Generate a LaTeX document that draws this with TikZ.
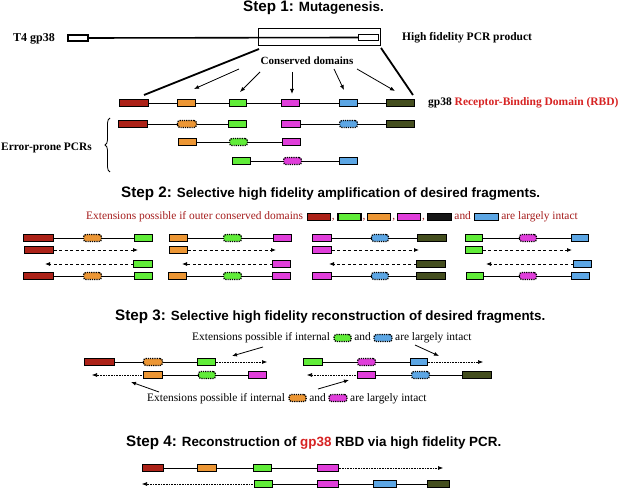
\documentclass[tikz,border=0pt]{standalone}
\usepackage{fontspec}
\setmainfont{Liberation Serif}
\setsansfont{Liberation Sans}
\usetikzlibrary{arrows.meta,calc,decorations.pathreplacing}
\definecolor{cR}{RGB}{172,34,24}
\definecolor{cO}{RGB}{236,150,52}
\definecolor{cG}{RGB}{96,236,56}
\definecolor{cM}{RGB}{224,62,218}
\definecolor{cB}{RGB}{92,166,228}
\definecolor{cV}{RGB}{68,78,30}
\definecolor{cK}{RGB}{22,22,22}
\definecolor{tR}{RGB}{165,28,28}
\definecolor{tR2}{RGB}{215,35,35}
\newcommand\mkbox[5]{\node[box,#2,minimum width={#4-#3-1}] (#1) at ({(#3+#4)/2},#5) {};}
\begin{document}
\begin{tikzpicture}[x=1pt,y=-1pt,
  box/.style={draw=black, line width=1.1pt, minimum height=7pt, inner sep=0pt, outer sep=0pt},
  dbox/.style={dash pattern=on 1.2pt off 1pt, line width=1.3pt, rounded corners=2.5pt},
  wbox/.style={draw=black, fill=white, line width=1.1pt, minimum height=6pt, minimum width=20pt, inner sep=0pt},
  fR/.style={fill=cR}, fO/.style={fill=cO}, fG/.style={fill=cG}, fM/.style={fill=cM},
  fB/.style={fill=cB}, fV/.style={fill=cV}, fK/.style={fill=cK},
  ln/.style={line width=0.7pt},
  darr/.style={line width=0.8pt, dash pattern=on 3pt off 2.5pt, -{Latex[length=5pt,width=4pt]}},
  farr/.style={line width=0.6pt, dash pattern=on 0.8pt off 0.8pt, -{Latex[length=5pt,width=4pt]}},
  parr/.style={line width=0.8pt, -{Latex[length=5pt,width=4pt]}},
  title/.style={font=\sffamily\bfseries\fontsize{13.4}{15}\selectfont, anchor=west, inner sep=0pt},
  lbl/.style={font=\bfseries\fontsize{11.5}{13}\selectfont, inner sep=0pt},
  txt/.style={font=\fontsize{11.4}{13}\selectfont, inner sep=0pt}
]
\useasboundingbox (0,0) rectangle (619,489);
\fill[white] (0,0) rectangle (619,489);

% ---------------- Step 1
\node[title] (t1) at (243,8) {{\fontsize{15.2}{17}\selectfont Step 1:} Mutagenesis.};
\node[lbl, font=\bfseries\fontsize{12}{13}\selectfont, anchor=west] (t4) at (13,39) {T4 gp38};
\node[wbox] (b0) at (78,38) {};
\node[draw, line width=0.6pt, minimum width=122pt, minimum height=17pt, inner sep=0pt] (hf) at (319,36.5) {};
\node[wbox] (b1) at (368.5,37.5) {};
\draw[line width=1.6pt] (b0.east) -- (b1.west);
\node[lbl, anchor=west] (hfl) at (402,38) {High fidelity PCR product};
\coordinate (z1) at (259,49); \coordinate (z2) at (144,95);
\coordinate (z3) at (381,48); \coordinate (z4) at (413,95);
\draw[line width=1.8pt] (z1) -- (z2) (z3) -- (z4);
\node[lbl, font=\bfseries\fontsize{11}{13}\selectfont] (cd) at (307,61) {Conserved domains};
\coordinate (a1s) at (239,69); \coordinate (a1e) at (194,89);
\coordinate (a2s) at (260,72); \coordinate (a2e) at (240,92);
\coordinate (a3s) at (292,72); \coordinate (a3e) at (292,94);
\coordinate (a4s) at (334,69); \coordinate (a4e) at (344,90);
\coordinate (a5s) at (357,69); \coordinate (a5e) at (395,91);
\foreach \i in {1,...,5} \draw[parr] (a\i s) -- (a\i e);

\mkbox{r1}{fR}{119}{149}{103}
\mkbox{r2}{fO}{177}{196}{103}
\mkbox{r3}{fG}{229}{247}{103}
\mkbox{r4}{fM}{281}{300}{103}
\mkbox{r5}{fB}{339}{358}{103}
\mkbox{r6}{fV}{386}{415}{103}
\draw[ln] (r1.east)--(r2.west) (r2.east)--(r3.west) (r3.east)--(r4.west) (r4.east)--(r5.west) (r5.east)--(r6.west);
\node[lbl, anchor=west] (rbd) at (428,103) {gp38 \textcolor{tR2}{Receptor-Binding Domain (RBD)}};

\mkbox{e1}{fR}{118}{148}{124}
\mkbox{e2}{dbox,fO}{177}{197}{124}
\mkbox{e3}{fG}{228}{247}{124}
\mkbox{e4}{fM}{281}{301}{124}
\mkbox{e5}{dbox,fB}{339}{358}{124}
\mkbox{e6}{fV}{386}{415}{124}
\draw[ln] (e1.east)--(e2.west) (e2.east)--(e3.west) (e4.east)--(e5.west) (e5.east)--(e6.west);
\mkbox{f1}{fO}{178}{197}{142}
\mkbox{f2}{dbox,fG}{229}{248}{142}
\mkbox{f3}{fM}{282}{301}{142}
\draw[ln] (f1.east)--(f2.west) (f2.east)--(f3.west);
\mkbox{g1}{fG}{232}{251}{161}
\mkbox{g2}{dbox,fM}{283}{302}{161}
\mkbox{g3}{fB}{339}{358}{161}
\draw[ln] (g1.east)--(g2.west) (g2.east)--(g3.west);
\coordinate (br1) at (110,172); \coordinate (br2) at (110,118);
\draw[line width=0.8pt, decorate, decoration={brace, amplitude=5pt}] (br1) -- (br2);
\node[lbl, font=\bfseries\fontsize{11.4}{13}\selectfont, anchor=west] (ep) at (1,148) {Error-prone PCRs};

% ---------------- Step 2
\node[title] (t2) at (121,194) {{\fontsize{15.2}{17}\selectfont Step 2:} Selective high fidelity amplification of desired fragments.};
\node[txt, text=tR, anchor=base west] (x2) at (86,220) {Extensions possible if outer conserved domains};
\node[box, fR, minimum width=23pt, anchor=west] (l1) at ($(x2.base east)+(4,-3)$) {};
\node[txt, text=tR, anchor=base west, xshift=1.5pt] (c1) at (l1.east |- x2.base) {,};
\node[box, fG, minimum width=23pt, anchor=west] (l2) at ($(c1.base east)+(3,-3)$) {};
\node[txt, text=tR, anchor=base west, xshift=1.5pt] (c2) at (l2.east |- x2.base) {,};
\node[box, fO, minimum width=23pt, anchor=west] (l3) at ($(c2.base east)+(2,-3)$) {};
\node[txt, text=tR, anchor=base west, xshift=1.5pt] (c3) at (l3.east |- x2.base) {,};
\node[box, fM, minimum width=23pt, anchor=west] (l4) at ($(c3.base east)+(2,-3)$) {};
\node[txt, text=tR, anchor=base west, xshift=1.5pt] (c4) at (l4.east |- x2.base) {,};
\node[box, fK, minimum width=24pt, anchor=west] (l5) at ($(c4.base east)+(2,-3)$) {};
\node[txt, text=tR, anchor=base west, xshift=3pt] (an2) at (l5.east |- x2.base) {and};
\node[box, fB, minimum width=24pt, anchor=west] (l6) at ($(an2.base east)+(3,-3)$) {};
\node[txt, text=tR, anchor=base west, xshift=3pt] (x2b) at (l6.east |- x2.base) {are largely intact};

% group 1
\mkbox{p1a}{fR}{23}{54}{238}
\mkbox{p1b}{dbox,fO}{83}{102}{238}
\mkbox{p1c}{fG}{134}{153}{238}
\draw[ln] (p1a.east)--(p1b.west) (p1b.east)--(p1c.west);
\mkbox{p1d}{fR}{24}{54}{250}
\coordinate (p1de) at (138,250);
\draw[darr] (p1d.east) -- (p1de);
\mkbox{p1e}{fG}{133}{153}{264}
\coordinate (p1ee) at (45,264);
\draw[darr] (p1e.west) -- (p1ee);
\mkbox{p1f}{fR}{23}{54}{276}
\mkbox{p1g}{dbox,fO}{83}{102}{276}
\mkbox{p1h}{fG}{134}{153}{276}
\draw[ln] (p1f.east)--(p1g.west) (p1g.east)--(p1h.west);
% group 2
\mkbox{p2a}{fO}{169}{188}{238}
\mkbox{p2b}{dbox,fG}{223}{242}{238}
\mkbox{p2c}{fM}{273}{292}{238}
\draw[ln] (p2a.east)--(p2b.west) (p2b.east)--(p2c.west);
\mkbox{p2d}{fO}{169}{188}{250}
\coordinate (p2de) at (276,250);
\draw[darr] (p2d.east) -- (p2de);
\mkbox{p2e}{fM}{272}{291}{264}
\coordinate (p2ee) at (182,264);
\draw[darr] (p2e.west) -- (p2ee);
\mkbox{p2f}{fO}{168}{187}{276}
\mkbox{p2g}{dbox,fG}{223}{242}{276}
\mkbox{p2h}{fM}{272}{291}{276}
\draw[ln] (p2f.east)--(p2g.west) (p2g.east)--(p2h.west);
% group 3
\mkbox{p3a}{fM}{312}{332}{238}
\mkbox{p3b}{dbox,fB}{371}{389}{238}
\mkbox{p3c}{fV}{417}{447}{238}
\draw[ln] (p3a.east)--(p3b.west) (p3b.east)--(p3c.west);
\mkbox{p3d}{fM}{312}{332}{250}
\coordinate (p3de) at (419,250);
\draw[darr] (p3d.east) -- (p3de);
\mkbox{p3e}{fV}{416}{446}{264}
\coordinate (p3ee) at (329,264);
\draw[darr] (p3e.west) -- (p3ee);
\mkbox{p3f}{fM}{312}{332}{276}
\mkbox{p3g}{dbox,fB}{371}{389}{276}
\mkbox{p3h}{fV}{416}{446}{276}
\draw[ln] (p3f.east)--(p3g.west) (p3g.east)--(p3h.west);
% group 4
\mkbox{p4a}{fG}{465}{483}{238}
\mkbox{p4b}{dbox,fM}{519}{537}{238}
\mkbox{p4c}{fB}{571}{589}{238}
\draw[ln] (p4a.east)--(p4b.west) (p4b.east)--(p4c.west);
\mkbox{p4d}{fG}{465}{483}{250}
\coordinate (p4de) at (572,250);
\draw[darr] (p4d.east) -- (p4de);
\mkbox{p4e}{fB}{573}{592}{264}
\coordinate (p4ee) at (486,264);
\draw[darr] (p4e.west) -- (p4ee);
\mkbox{p4f}{fG}{466}{484}{276}
\mkbox{p4g}{dbox,fM}{519}{537}{276}
\mkbox{p4h}{fB}{571}{590}{276}
\draw[ln] (p4f.east)--(p4g.west) (p4g.east)--(p4h.west);

% ---------------- Step 3
\node[title] (t3) at (115,317) {{\fontsize{15.2}{17}\selectfont Step 3:} Selective high fidelity reconstruction of desired fragments.};
\node[txt, anchor=base west] (x3) at (192,341) {Extensions possible if internal};
\node[box, dbox, fG, minimum width=17pt, anchor=west] (k1) at ($(x3.base east)+(4,-3)$) {};
\node[txt, anchor=base west, xshift=3pt] (an3) at (k1.east |- x3.base) {and};
\node[box, dbox, fB, minimum width=18pt, anchor=west] (k2) at ($(an3.base east)+(3,-3)$) {};
\node[txt, anchor=base west, xshift=3pt] (x3b) at (k2.east |- x3.base) {are largely intact};

\mkbox{s1a}{fR}{84}{115}{362}
\mkbox{s1b}{dbox,fO}{143}{163}{362}
\mkbox{s1c}{fG}{197}{216}{362}
\draw[ln] (s1a.east)--(s1b.west) (s1b.east)--(s1c.west);
\coordinate (s1ce) at (267,362);
\draw[farr] (s1c.east) -- (s1ce);
\mkbox{s1d}{fO}{143}{163}{375}
\mkbox{s1e}{dbox,fG}{198}{216}{375}
\mkbox{s1f}{fM}{248}{267}{375}
\draw[ln] (s1d.east)--(s1e.west) (s1e.east)--(s1f.west);
\coordinate (s1de) at (92,375);
\draw[farr] (s1d.west) -- (s1de);

\mkbox{s2a}{fG}{303}{323}{362}
\mkbox{s2b}{dbox,fM}{357}{376}{362}
\mkbox{s2c}{fB}{410}{428}{362}
\draw[ln] (s2a.east)--(s2b.west) (s2b.east)--(s2c.west);
\coordinate (s2ce) at (483,362);
\draw[farr] (s2c.east) -- (s2ce);
\mkbox{s2d}{fM}{357}{376}{375}
\mkbox{s2e}{dbox,fB}{411}{430}{375}
\mkbox{s2f}{fV}{462}{492}{375}
\draw[ln] (s2d.east)--(s2e.west) (s2e.east)--(s2f.west);
\coordinate (s2de) at (307,375);
\draw[farr] (s2d.west) -- (s2de);

\coordinate (q1s) at (263,347); \coordinate (q1e) at (232,356);
\coordinate (q2s) at (159,392); \coordinate (q2e) at (131,382);
\coordinate (q3s) at (415,345); \coordinate (q3e) at (439,356);
\coordinate (q4s) at (318,389); \coordinate (q4e) at (349,380);
\foreach \i in {1,...,4} \draw[parr] (q\i s) -- (q\i e);

\node[txt, anchor=base west] (x4) at (147,401) {Extensions possible if internal};
\node[box, dbox, fO, minimum width=17pt, anchor=west] (k3) at ($(x4.base east)+(4,-3)$) {};
\node[txt, anchor=base west, xshift=3pt] (an4) at (k3.east |- x4.base) {and};
\node[box, dbox, fM, minimum width=18pt, anchor=west] (k4) at ($(an4.base east)+(3,-3)$) {};
\node[txt, anchor=base west, xshift=3pt] (x4b) at (k4.east |- x4.base) {are largely intact};

% ---------------- Step 4
\node[title] (t4t) at (126,443) {{\fontsize{15.2}{17}\selectfont Step 4:} Reconstruction of \textcolor{tR2}{gp38} RBD via high fidelity PCR.};
\mkbox{u1}{fR}{142}{164}{468}
\mkbox{u2}{fO}{197}{217}{468}
\mkbox{u3}{fG}{253}{272}{468}
\mkbox{u4}{fM}{317}{339}{468}
\draw[ln] (u1.east)--(u2.west) (u2.east)--(u3.west) (u3.east)--(u4.west);
\coordinate (u4e) at (443,468);
\draw[farr] (u4.east) -- (u4e);
\mkbox{v1}{fG}{254}{273}{484}
\mkbox{v2}{fM}{317}{339}{484}
\mkbox{v3}{fB}{373}{397}{484}
\mkbox{v4}{fV}{427}{450}{484}
\draw[ln] (v1.east)--(v2.west) (v2.east)--(v3.west) (v3.east)--(v4.west);
\coordinate (v1e) at (142,484);
\draw[farr] (v1.west) -- (v1e);
\end{tikzpicture}
\end{document}
